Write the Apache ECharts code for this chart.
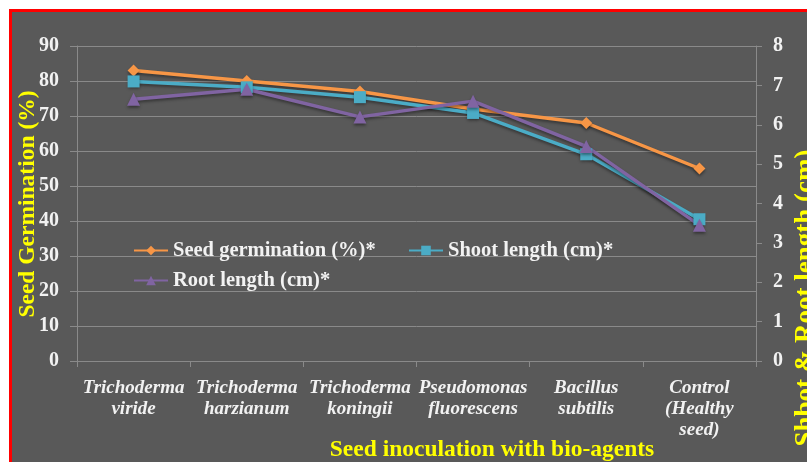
<!DOCTYPE html>
<html>
<head>
<meta charset="utf-8">
<script src="https://cdn.jsdelivr.net/npm/echarts@6/dist/echarts.min.js"></script>
<style>
  html, body { margin: 0; padding: 0; background: #fff; }
  #chart { width: 807px; height: 462px; }
</style>
</head>
<body>
<div id="chart"></div>
<script>
const categories = [
  "Trichoderma\nviride",
  "Trichoderma\nharzianum",
  "Trichoderma\nkoningii",
  "Pseudomonas\nfluorescens",
  "Bacillus\nsubtilis",
  "Control\n(Healthy\nseed)"
];
const germination = [83, 80, 77, 72, 68, 55];
const shootLength = [7.1, 6.95, 6.7, 6.3, 5.25, 3.6];
const rootLength = [6.65, 6.9, 6.2, 6.6, 5.45, 3.45];
const leftTicks = { min: 0, max: 90, interval: 10 };
const rightTicks = { min: 0, max: 8, interval: 1 };

const font = "'Liberation Serif', 'DejaVu Serif', serif";
const white = "#f2f2f2";
const yellow = "#ffff00";
const gridCol = "#8a8a8a";

const chart = echarts.init(document.getElementById("chart"));

const legendText = { color: white, fontFamily: font, fontWeight: "bold", fontSize: 20.5 };
const mkLegend = (name, left, top) => ({
  data: [name], left, top, itemWidth: 34, itemHeight: 12, itemGap: 0,
  textStyle: legendText, padding: 0
});

const shadow = { shadowColor: "rgba(0,0,0,0.4)", shadowBlur: 3, shadowOffsetY: 2 };

chart.setOption({
  animation: false,
  graphic: [
    { type: "rect", shape: { x: 9, y: 9, width: 800, height: 460 }, style: { fill: "#ff0000" }, z: -10 },
    { type: "rect", shape: { x: 12, y: 12, width: 800, height: 460 }, style: { fill: "#595959" }, z: -9 },
    { type: "text", x: 492, y: 450, style: { text: "Seed inoculation with bio-agents", fill: yellow,
      font: "bold 23.5px " + font, textAlign: "center", textVerticalAlign: "middle" } },
    { type: "text", x: 28, y: 204, rotation: Math.PI / 2, style: { text: "Seed Germination (%)", fill: yellow,
      font: "bold 23.5px " + font, textAlign: "center", textVerticalAlign: "middle" } },
    { type: "text", x: 806, y: 298, rotation: Math.PI / 2, style: { text: "Shbot & Root length (cm)", fill: yellow,
      font: "bold 27px " + font, textAlign: "center", textVerticalAlign: "middle" } }
  ],
  legend: [
    mkLegend("Seed germination (%)*", 133, 240),
    mkLegend("Shoot length (cm)*", 408, 240),
    mkLegend("Root length (cm)*", 133, 270)
  ],
  grid: { left: 77, right: 51, top: 46, bottom: 101, containLabel: false },
  xAxis: {
    type: "category",
    data: categories,
    boundaryGap: true,
    axisLine: { lineStyle: { color: gridCol } },
    axisTick: { show: true, length: 6, lineStyle: { color: gridCol } },
    axisLabel: { color: white, fontFamily: font, fontStyle: "italic", fontWeight: "bold",
      fontSize: 19, lineHeight: 21, margin: 17, interval: 0 }
  },
  yAxis: [
    {
      type: "value", ...leftTicks,
      axisLine: { show: true, lineStyle: { color: gridCol } },
      axisTick: { show: true, length: 7, lineStyle: { color: gridCol } },
      splitLine: { lineStyle: { color: gridCol } },
      axisLabel: { color: white, fontFamily: font, fontWeight: "bold", fontSize: 20, margin: 18 }
    },
    {
      type: "value", ...rightTicks, position: "right",
      axisLine: { show: true, lineStyle: { color: gridCol } },
      axisTick: { show: true, length: 6, lineStyle: { color: gridCol } },
      splitLine: { show: false },
      axisLabel: { color: white, fontFamily: font, fontWeight: "bold", fontSize: 20, margin: 17 }
    }
  ],
  series: [
    {
      name: "Seed germination (%)*", type: "line", yAxisIndex: 0, data: germination,
      symbol: "diamond", symbolSize: 12, color: "#f79646",
      lineStyle: { width: 3.5, ...shadow }, itemStyle: shadow
    },
    {
      name: "Shoot length (cm)*", type: "line", yAxisIndex: 1, data: shootLength,
      symbol: "rect", symbolSize: 12, color: "#4bacc6",
      lineStyle: { width: 3.5, ...shadow }, itemStyle: shadow
    },
    {
      name: "Root length (cm)*", type: "line", yAxisIndex: 1, data: rootLength,
      symbol: "triangle", symbolSize: 13, color: "#8064a2",
      lineStyle: { width: 3.5, ...shadow }, itemStyle: shadow
    }
  ]
});
</script>
</body>
</html>
